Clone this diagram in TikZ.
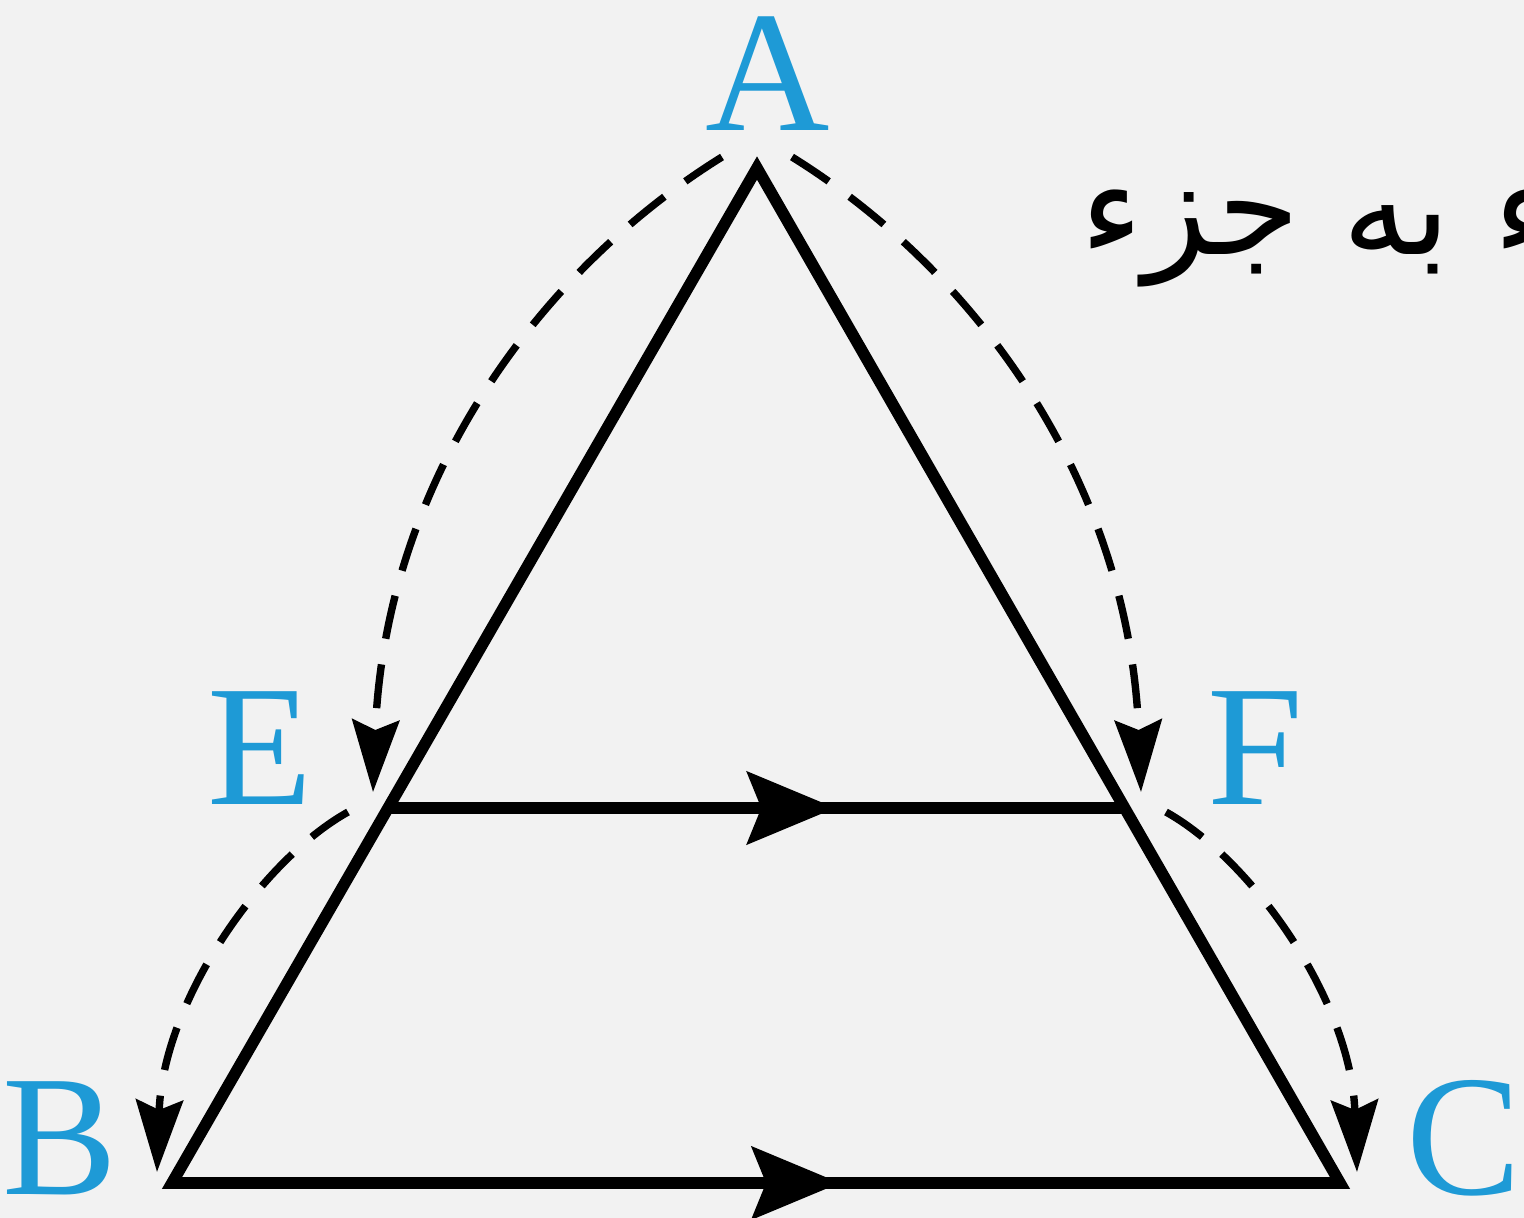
\documentclass[tikz,border=0pt]{standalone}
\usepackage{fontspec}
\setmainfont{Liberation Serif}
\newfontfamily\arabicfont[Script=Arabic]{DejaVu Sans}
\TeXXeTstate=1
\usetikzlibrary{arrows.meta,decorations.markings}
\definecolor{bgc}{HTML}{F2F2F2}
\definecolor{lblue}{HTML}{1E9AD6}
\tikzset{
  solidline/.style={line width=3.3pt, black},
  dashline/.style={line width=2.1pt, black, dash pattern=on 0.44cm off 0.26cm,
    -{Stealth[length=0.72cm,width=0.47cm,inset=0.1cm]}},
  midarrow/.style={postaction={decorate},decoration={markings,
    mark=at position #1 with {\arrow{Stealth[length=0.88cm,width=0.72cm,inset=0.14cm]}}}},
  lbl/.style={text=lblue, font=\fontsize{49}{50}\selectfont, inner sep=0pt},
}
\begin{document}
\begin{tikzpicture}[x=0.01cm,y=-0.01cm]
\clip (0,0) rectangle (1524,1218);
\fill[bgc] (0,0) rectangle (1524,1218);
\coordinate (A) at (757,168);
\coordinate (B) at (172,1183);
\coordinate (C) at (1340,1183);
\coordinate (E) at (388,808);
\coordinate (F) at (1125,808);
\coordinate (a1) at (722,157);
\coordinate (a2) at (792,157);
\coordinate (e1) at (373,792);
\coordinate (f1) at (1141,792);
\coordinate (e2) at (348,812);
\coordinate (f2) at (1166,812);
\coordinate (b1) at (157,1172);
\coordinate (c1) at (1357,1172);
% dashed arcs
\draw[dashline] (a1) .. controls (540,270) and (385,480) .. (e1);
\draw[dashline] (a2) .. controls (974,270) and (1129,480) .. (f1);
\draw[dashline] (e2) .. controls (262,860) and (163,1000) .. (b1);
\draw[dashline] (f2) .. controls (1252,860) and (1351,1000) .. (c1);
% triangle
\draw[solidline, line join=miter] (A) -- (B) -- (C) -- cycle;
\draw[solidline, midarrow=0.607] (E) -- (F);
\draw[solidline, midarrow=0.572] (B) -- (C);
% labels
\node[lbl] (lA) at (768,74) {A};
\node[lbl] (lE) at (260,748) {E};
\node[lbl] (lF) at (1255,748) {F};
\node[lbl] (lB) at (60,1138) {B};
\node[lbl] (lC) at (1464,1138) {C};
\node[anchor=base west, inner sep=0pt, font=\fontsize{38}{40}\arabicfont] (txt) at (1080,254) {\beginR جزء به جزء\endR};
\end{tikzpicture}
\end{document}
